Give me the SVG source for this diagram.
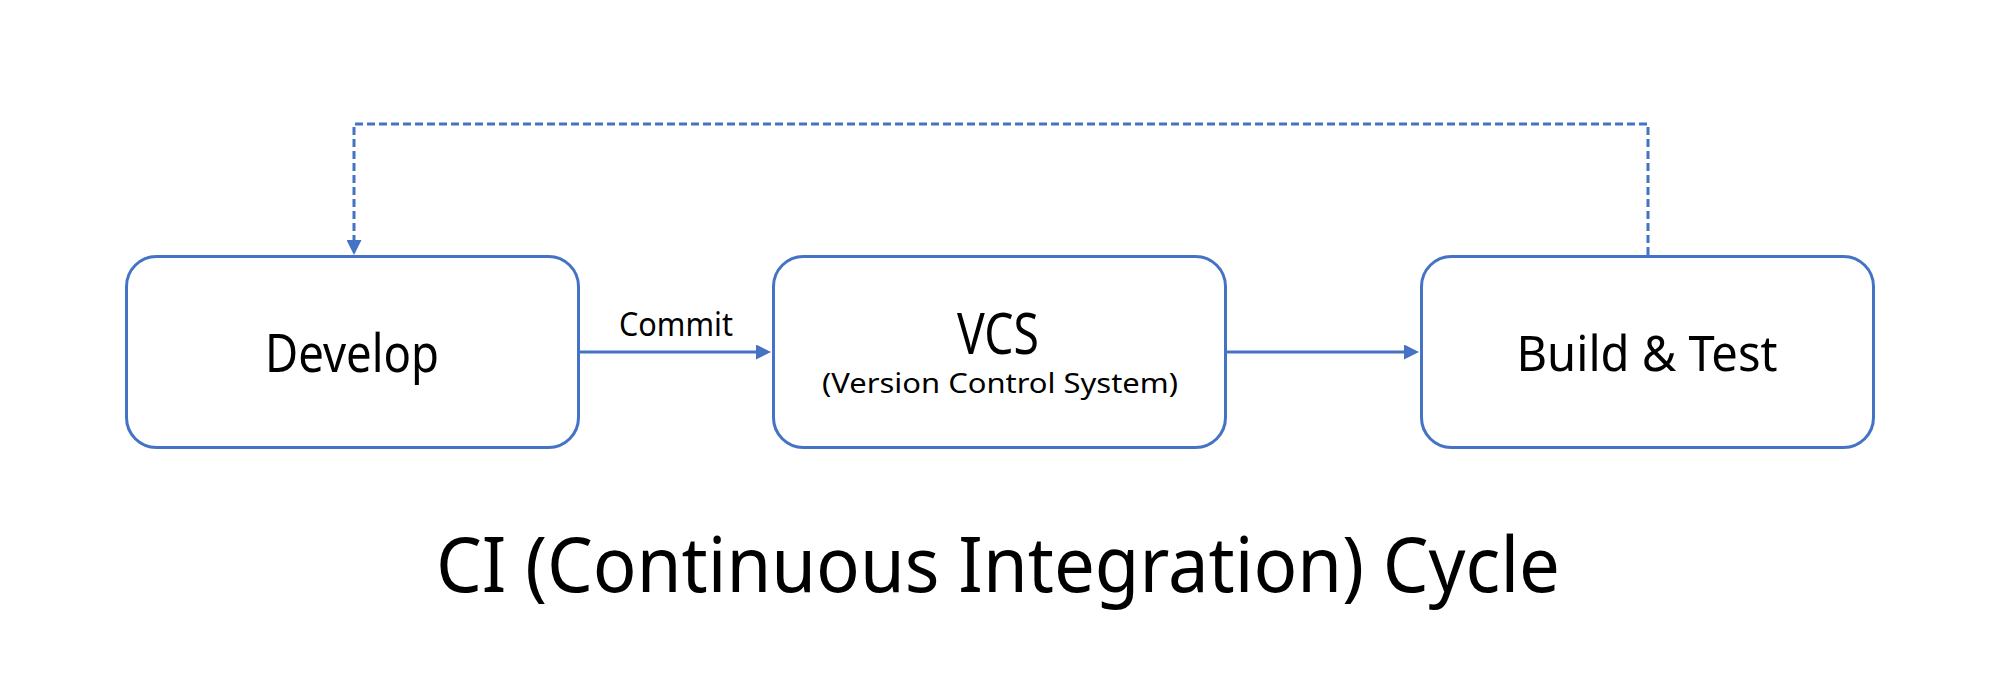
<svg xmlns="http://www.w3.org/2000/svg" width="1992" height="698" viewBox="0 0 1992 698">
<style>
.box{fill:#ffffff;stroke:#4472C4;stroke-width:3}
.conn{fill:none;stroke:#4472C4;stroke-width:3}
.dash{stroke-dasharray:8 4}
text{font-family:"Noto Sans","Open Sans","Liberation Sans",sans-serif;fill:#000000;text-anchor:middle}
</style>
<defs>
<marker id="arrow" viewBox="0 0 15 15" refX="1" refY="7.5" markerWidth="15" markerHeight="15" markerUnits="userSpaceOnUse" orient="auto">
<path d="M0,0 L15,7.5 L0,15 z" fill="#4472C4"/>
</marker>
</defs>
<rect width="1992" height="698" fill="#ffffff"/>
<g id="connectors">
<path class="conn" d="M580,352 H757" marker-end="url(#arrow)"/>
<path class="conn" d="M1227,352 H1405" marker-end="url(#arrow)"/>
<path class="conn dash" d="M1648,255 V124 H354 V241" marker-end="url(#arrow)"/>
<text x="676" y="336" font-size="32" textLength="114" lengthAdjust="spacingAndGlyphs">Commit</text>
</g>
<g id="develop">
<rect class="box" x="126.5" y="256.5" width="452" height="191" rx="30"/>
<text x="352" y="372" font-size="52" textLength="174" lengthAdjust="spacingAndGlyphs">Develop</text>
</g>
<g id="vcs">
<rect class="box" x="773.5" y="256.5" width="452" height="191" rx="30"/>
<text x="998" y="354" font-size="56" textLength="82" lengthAdjust="spacingAndGlyphs">VCS</text>
<text x="1000" y="393" font-size="27" textLength="356" lengthAdjust="spacingAndGlyphs">(Version Control System)</text>
</g>
<g id="build-test">
<rect class="box" x="1421.5" y="256.5" width="452" height="191" rx="30"/>
<text x="1647" y="371" font-size="50" textLength="261" lengthAdjust="spacingAndGlyphs">Build &amp; Test</text>
</g>
<g id="title">
<text x="998" y="592" font-size="76" textLength="1124" lengthAdjust="spacingAndGlyphs">CI (Continuous Integration) Cycle</text>
</g>
</svg>
